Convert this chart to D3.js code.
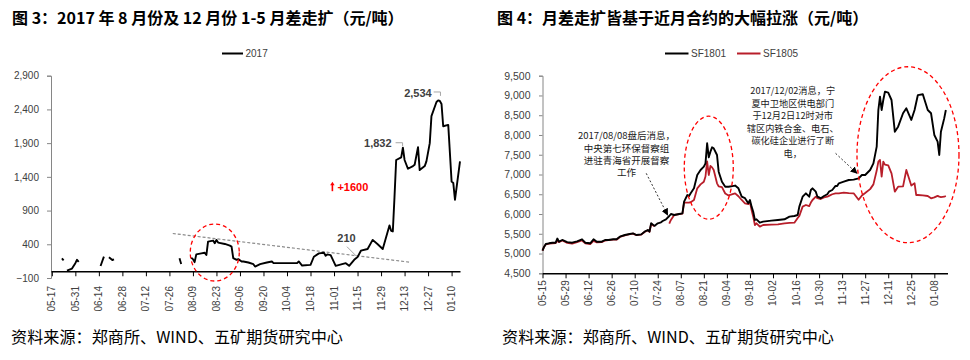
<!DOCTYPE html>
<html><head><meta charset="utf-8">
<script src="https://cdn.jsdelivr.net/npm/d3@7"></script>
<style>body{margin:0;background:#fff} svg{display:block}</style>
</head><body>
<svg id="c" width="970" height="360"></svg>
<script>
// ---------------- DATA ----------------
const leftTitle = "图 3：2017 年 8 月份及 12 月份 1-5 月差走扩（元/吨）";
const rightTitle = "图 4：月差走扩皆基于近月合约的大幅拉涨（元/吨）";
const sourceText = "资料来源：郑商所、WIND、五矿期货研究中心";

const leftSeriesName = "2017";
const leftDates = ["2017-05-23","2017-05-24","2017-05-25","2017-05-26","2017-05-29","2017-05-31","2017-06-01","2017-06-02","2017-06-05",
"2017-06-15","2017-06-17","2017-06-18","2017-06-20","2017-06-22","2017-06-23","2017-06-26",
"2017-08-01","2017-08-02","2017-08-04",
"2017-08-08","2017-08-09","2017-08-10","2017-08-11","2017-08-14","2017-08-16","2017-08-17","2017-08-18","2017-08-21","2017-08-22","2017-08-23","2017-08-24","2017-08-28","2017-08-31",
"2017-09-01","2017-09-02","2017-09-04","2017-09-05","2017-09-07","2017-09-08","2017-09-11","2017-09-14","2017-09-15","2017-09-18","2017-09-22","2017-09-25","2017-09-26",
"2017-10-02","2017-10-10","2017-10-11","2017-10-13","2017-10-18","2017-10-20","2017-10-23","2017-10-26","2017-10-27","2017-10-28","2017-10-30",
"2017-11-02","2017-11-08","2017-11-10","2017-11-13","2017-11-15","2017-11-17","2017-11-21","2017-11-24","2017-11-27","2017-11-30",
"2017-12-04","2017-12-05","2017-12-06","2017-12-07","2017-12-08","2017-12-11","2017-12-12","2017-12-13","2017-12-15","2017-12-18","2017-12-19","2017-12-21","2017-12-22","2017-12-25","2017-12-26","2017-12-28","2017-12-29",
"2018-01-01","2018-01-02","2018-01-03","2018-01-04","2018-01-05","2018-01-08","2018-01-10","2018-01-11","2018-01-12","2018-01-15"];
const leftSpread = [190,160,null,10,40,120,170,140,null,
78,216,null,207,167,177,null,
192,108,null,
200,180,135,250,265,275,240,440,455,415,465,425,405,380,
365,195,170,180,145,145,130,105,70,105,130,145,120,
120,120,145,85,95,215,265,275,230,250,240,
80,120,80,170,210,305,330,465,400,330,
680,600,590,1100,1650,1690,1832,1650,1520,1560,1580,1840,1500,1560,1630,1900,2300,
2510,2534,2525,2480,2150,2170,1330,1310,1060,1630];
const leftYTicks = [-100,400,900,1400,1900,2400,2900];
const leftXTicks = ["2017-05-17","2017-05-31","2017-06-14","2017-06-28","2017-07-12","2017-07-26","2017-08-09","2017-08-23","2017-09-06","2017-09-20","2017-10-04","2017-10-18","2017-11-01","2017-11-15","2017-11-29","2017-12-13","2017-12-27","2018-01-10"];
const leftTrendDates = ["2017-07-28","2017-12-16"];
const leftTrendValues = [560,135];
const leftPeakLabels = [{date:"2018-01-02", value:2534, text:"2,534"},{date:"2017-12-12", value:1832, text:"1,832"},{date:"2017-11-15", value:210, text:"210"}];
const leftRiseNote = {date:"2017-11-03", value:1254, text:"+1600"};
const leftCircle = {date:"2017-08-22", value:278};

const rightSeriesNames = ["SF1801","SF1805"];
const rightDates = [
"2017-05-15","2017-05-16","2017-05-17","2017-05-19","2017-05-21","2017-05-23","2017-05-24","2017-05-25","2017-05-27","2017-05-30",
"2017-06-02","2017-06-05","2017-06-08","2017-06-10","2017-06-13","2017-06-15","2017-06-17","2017-06-20","2017-06-22","2017-06-24","2017-06-27","2017-06-29",
"2017-07-01","2017-07-04","2017-07-07","2017-07-09","2017-07-11","2017-07-14","2017-07-16","2017-07-18","2017-07-19","2017-07-20","2017-07-22","2017-07-24","2017-07-26","2017-07-27","2017-07-29","2017-07-31",
"2017-08-01","2017-08-03","2017-08-06","2017-08-08","2017-08-09","2017-08-11","2017-08-12","2017-08-13","2017-08-15","2017-08-17","2017-08-19","2017-08-21","2017-08-22","2017-08-23","2017-08-24","2017-08-25","2017-08-26","2017-08-27","2017-08-29","2017-08-30",
"2017-09-01","2017-09-03","2017-09-05","2017-09-09","2017-09-11","2017-09-13","2017-09-15","2017-09-17","2017-09-18","2017-09-19","2017-09-20","2017-09-21","2017-09-22","2017-09-24","2017-09-26",
"2017-10-01","2017-10-05","2017-10-09","2017-10-12","2017-10-15","2017-10-17","2017-10-18","2017-10-20","2017-10-22","2017-10-24","2017-10-25","2017-10-26","2017-10-28","2017-10-29","2017-10-31",
"2017-11-02","2017-11-04","2017-11-05","2017-11-07","2017-11-09","2017-11-10","2017-11-11","2017-11-14","2017-11-17","2017-11-20","2017-11-23","2017-11-25","2017-11-27","2017-11-30",
"2017-12-02","2017-12-04","2017-12-05","2017-12-06","2017-12-07","2017-12-08","2017-12-09","2017-12-11","2017-12-13","2017-12-15","2017-12-17","2017-12-20","2017-12-22","2017-12-25","2017-12-27","2017-12-28","2017-12-29",
"2018-01-01","2018-01-04","2018-01-06","2018-01-08","2018-01-10","2018-01-11","2018-01-12","2018-01-14","2018-01-15"];
const sf1801 = [
5072,5173,5241,5259,5274,5274,5380,5300,5343,5290,
5274,5310,5360,5274,5259,5360,5300,5300,5343,5343,5360,5360,
5426,5469,5494,5510,5469,5485,5553,5596,5553,5765,5700,5765,5790,5823,5866,5950,
6000,5975,6000,6018,6312,6481,6456,6524,6650,6987,7114,7198,7283,7790,7435,7577,7688,7663,7494,7071,
6818,6691,6691,6720,6650,6438,6400,6271,6355,6186,6059,5850,5866,5781,5807,
5832,5850,5866,5933,5950,5975,6186,6438,6524,6438,6608,6650,6565,6438,6400,
6456,6500,6565,6608,6710,6710,6777,6818,6861,6870,6903,6987,6987,7114,
7283,7704,8632,8970,8632,8885,9095,9070,8885,8083,8210,8550,8675,8380,8632,8820,9010,
9030,8632,8550,8000,7830,7494,8083,8420,8632];
const sf1805 = [
5072,5173,5230,5250,5260,5265,5320,5290,5330,5270,
5250,5290,5330,5260,5240,5320,5280,5290,5330,5340,5350,5350,
5420,5460,5490,5505,5465,5480,5545,5590,5550,5750,5690,null,null,null,null,5760,
5850,5975,5995,6010,6286,6290,6286,6300,6355,6650,6750,6818,6950,7330,6987,7215,7180,7114,6777,6700,
6680,6520,6470,6524,6450,6355,6271,6250,6300,6100,5933,5722,5765,5680,5722,
5730,5740,5765,5775,5780,5900,5950,6186,6228,6200,6290,6355,6438,6400,6380,
6420,6438,6460,6500,6524,6524,6524,6540,6530,6524,6360,6470,6530,6630,
6750,7100,7324,7367,6945,7324,7250,7230,7030,6565,6691,6700,7114,6720,6777,6481,6481,
6470,6456,6398,6420,6460,6440,6430,6438,6456];
const rightYTicks = [4500,5000,5500,6000,6500,7000,7500,8000,8500,9000,9500];
const rightXTicks = ["2017-05-15","2017-05-29","2017-06-12","2017-06-26","2017-07-10","2017-07-24","2017-08-07","2017-08-21","2017-09-04","2017-09-18","2017-10-02","2017-10-16","2017-10-30","2017-11-13","2017-11-27","2017-12-11","2017-12-25","2018-01-08"];
const note1Lines = ["2017/08/08盘后消息，","中央第七环保督察组","进驻青海省开展督察","工作"];
const note1 = {date:"2017-07-05", value:7974, arrowFrom:["2017-07-17",7030], arrowTo:["2017-07-30",5975]};
const note2Lines = ["2017/12/02消息，宁","夏中卫地区供电部门","于12月2日12时对市","辖区内铁合金、电石、","碳化硅企业进行了断","电，"];
const note2 = {date:"2017-10-14", value:9115, arrowFrom:["2017-11-09",7536], arrowTo:["2017-11-22",7030]};
const rightCircles = [{date:"2017-08-24", value:7172, rx:24.5, ry:51.5},{date:"2017-12-23", value:7500, rx:51, ry:88}];

// ---------------- DRAW ----------------
const parse = d3.timeParse("%Y-%m-%d");
const fmtMD = d3.timeFormat("%m-%d");
const svg = d3.select("#c");
svg.append("rect").attr("width",970).attr("height",360).attr("fill","#fff");
const cjk = "'Noto Sans CJK SC','Noto Sans',sans-serif";
const latin = "'Liberation Sans',Arial,sans-serif";
const RED = "#FF0000";

// titles
svg.append("text").attr("x",12).attr("y",24).text(leftTitle)
  .style("font-family",cjk).style("font-weight","700").style("font-size","16px").attr("fill","#000");
svg.append("text").attr("x",497).attr("y",24).text(rightTitle)
  .style("font-family",cjk).style("font-weight","700").style("font-size","16px").attr("fill","#000");
// sources
[11,502].forEach(x=>{
  svg.append("text").attr("x",x).attr("y",343).text(sourceText)
    .style("font-family",cjk).style("font-size","16px").attr("fill","#000")
    .attr("textLength",332).attr("lengthAdjust","spacingAndGlyphs");
});

// ---- LEFT CHART ----
const xL = d3.scaleTime().domain([new Date(2017,4,16,12), new Date(2018,0,15)]).range([51,460]);
const yL = d3.scaleLinear().domain([-100,2900]).range([278,75.7]);

const gyL = svg.append("g").attr("transform",`translate(${xL.range()[0]},0)`)
  .call(d3.axisLeft(yL).tickValues(leftYTicks).tickSize(4).tickPadding(8).tickFormat(d3.format(",")));
gyL.select(".domain").attr("stroke","#868686");
gyL.selectAll(".tick line").attr("stroke","#868686");
gyL.selectAll(".tick text").style("font-family",latin).style("font-size","10px").attr("fill","#404040");

const gxL = svg.append("g").attr("transform",`translate(0,${yL(0)})`)
  .call(d3.axisBottom(xL).tickValues(leftXTicks.map(parse)).tickSize(5).tickSizeOuter(0).tickFormat(""));
gxL.select(".domain").attr("stroke","#000").attr("stroke-width",1.6);
gxL.selectAll(".tick line").attr("stroke","#000");
svg.append("g").selectAll("text").data(leftXTicks.map(parse)).join("text")
  .attr("transform",d=>`translate(${xL(d)},${yL(-100)+8}) rotate(-90)`)
  .attr("text-anchor","end").attr("dy","0.35em").text(fmtMD)
  .style("font-family",latin).style("font-size","10px").attr("fill","#404040");

// trend line
svg.append("line")
  .attr("x1",xL(parse(leftTrendDates[0]))).attr("y1",yL(leftTrendValues[0]))
  .attr("x2",xL(parse(leftTrendDates[1]))).attr("y2",yL(leftTrendValues[1]))
  .attr("stroke","#8c8c8c").attr("stroke-width",1.2).attr("stroke-dasharray","3,2");

// line
const leftData = leftDates.map((d,i)=>({d:parse(d), v:leftSpread[i]}));
svg.append("path").datum(leftData)
  .attr("d", d3.line().defined(p=>p.v!=null).x(p=>xL(p.d)).y(p=>yL(p.v)))
  .attr("fill","none").attr("stroke","#000").attr("stroke-width",1.9).attr("stroke-linejoin","round");

// circle
svg.append("ellipse").attr("cx",xL(parse(leftCircle.date))).attr("cy",yL(leftCircle.value))
  .attr("rx",24.5).attr("ry",28.5).attr("fill","none").attr("stroke",RED)
  .attr("stroke-width",1.3).attr("stroke-dasharray","4,3");

// peak labels
const lblStyle = s=>s.style("font-family",latin).style("font-size","11px").style("font-weight","700").attr("fill","#404040");
leftPeakLabels.forEach((L,i)=>{
  const px = xL(parse(L.date)), py = yL(L.value);
  if(i===0){
    svg.append("text").attr("x",px-6.5).attr("y",py-7.7).attr("dy","0.35em").attr("text-anchor","end").text(L.text).call(lblStyle);
    svg.append("path").attr("d",`M${px-4.5},${py-8.4}H${px+2.3}V${py-4.5}`).attr("fill","none").attr("stroke","#a6a6a6");
  } else if(i===1){
    svg.append("text").attr("x",px-11.3).attr("y",py-4.4).attr("dy","0.35em").attr("text-anchor","end").text(L.text).call(lblStyle);
    svg.append("path").attr("d",`M${px-7.3},${py-5}H${px-0.3}V${py-1.7}`).attr("fill","none").attr("stroke","#a6a6a6");
  } else {
    svg.append("text").attr("x",px-11).attr("y",py-19.4).attr("dy","0.35em").attr("text-anchor","middle").text(L.text).call(lblStyle);
    svg.append("path").attr("d",`M${px-10.6},${py-10.4}L${px-0.6},${py-0.4}`).attr("fill","none").attr("stroke","#a6a6a6");
  }
});
// +1600 note
{
  const nx = xL(parse(leftRiseNote.date)), ny = yL(leftRiseNote.value);
  svg.append("text").attr("x",nx).attr("y",ny).attr("dy","0.35em").text(leftRiseNote.text)
    .style("font-family",latin).style("font-size","11px").style("font-weight","700").attr("fill",RED);
  const ax = nx-5;
  svg.append("path").attr("d",`M${ax},${ny+4.5}V${ny-2}`).attr("stroke",RED).attr("stroke-width",1.6);
  svg.append("path").attr("d",`M${ax-2.2},${ny-1.5}L${ax},${ny-5}L${ax+2.2},${ny-1.5}Z`).attr("fill",RED);
}
// left legend
svg.append("line").attr("x1",222).attr("x2",243).attr("y1",53.5).attr("y2",53.5).attr("stroke","#000").attr("stroke-width",2);
svg.append("text").attr("x",245.5).attr("y",53.5).attr("dy","0.35em").text(leftSeriesName)
  .style("font-family",latin).style("font-size","10px").attr("fill","#404040");

// ---- RIGHT CHART ----
const xR = d3.scaleTime().domain([new Date(2017,4,15), new Date(2018,0,16)]).range([542.5,947.5]);
const yR = d3.scaleLinear().domain([4500,9500]).range([273.3,75.7]);

const gyR = svg.append("g").attr("transform",`translate(${xR.range()[0]},0)`)
  .call(d3.axisLeft(yR).tickValues(rightYTicks).tickSize(3.5).tickPadding(8.5).tickFormat(d3.format(",")));
gyR.select(".domain").attr("stroke","#868686");
gyR.selectAll(".tick line").attr("stroke","#868686");
gyR.selectAll(".tick text").style("font-family",latin).style("font-size","10.5px").attr("fill","#404040");

const gxR = svg.append("g").attr("transform",`translate(0,${yR(4500)})`)
  .call(d3.axisBottom(xR).tickValues(rightXTicks.map(parse)).tickSize(5).tickSizeOuter(0).tickFormat(""));
gxR.select(".domain").attr("stroke","#000").attr("stroke-width",1.6);
gxR.selectAll(".tick line").attr("stroke","#000");
svg.append("g").selectAll("text").data(rightXTicks.map(parse)).join("text")
  .attr("transform",d=>`translate(${xR(d)},${yR(4500)+7}) rotate(-90)`)
  .attr("text-anchor","end").attr("dy","0.35em").text(fmtMD)
  .style("font-family",latin).style("font-size","10px").attr("fill","#404040");

const rData = rightDates.map((d,i)=>({d:parse(d), a:sf1801[i], b:sf1805[i]}));
const REDLINE = "#B81E2A";
svg.append("path").datum(rData)
  .attr("d", d3.line().defined(p=>p.b!=null).x(p=>xR(p.d)).y(p=>yR(p.b)))
  .attr("fill","none").attr("stroke",REDLINE).attr("stroke-width",1.8).attr("stroke-linejoin","round");
svg.append("path").datum(rData)
  .attr("d", d3.line().defined(p=>p.a!=null).x(p=>xR(p.d)).y(p=>yR(p.a)))
  .attr("fill","none").attr("stroke","#000").attr("stroke-width",1.9).attr("stroke-linejoin","round");

rightCircles.forEach(c=>{
  svg.append("ellipse").attr("cx",xR(parse(c.date))).attr("cy",yR(c.value))
    .attr("rx",c.rx).attr("ry",c.ry).attr("fill","none").attr("stroke",RED)
    .attr("stroke-width",1.3).attr("stroke-dasharray","4,3");
});

svg.append("defs").append("marker").attr("id","ah").attr("viewBox","0 0 10 10")
  .attr("refX",9).attr("refY",5).attr("markerWidth",7).attr("markerHeight",7)
  .attr("markerUnits","userSpaceOnUse").attr("orient","auto")
  .append("path").attr("d","M0,0L10,5L0,10Z").attr("fill","#000");

function note(lines, n, gap, size){
  const cx = xR(parse(n.date)), cy = yR(n.value);
  lines.forEach((s,i)=>{
    svg.append("text").attr("text-anchor","middle")
      .attr("x",cx).attr("y",cy+i*gap).attr("dy","0.35em").text(s)
      .style("font-family",cjk).style("font-size",size+"px").attr("fill","#1a1a1a");
  });
  svg.append("line")
    .attr("x1",xR(parse(n.arrowFrom[0]))).attr("y1",yR(n.arrowFrom[1]))
    .attr("x2",xR(parse(n.arrowTo[0]))).attr("y2",yR(n.arrowTo[1]))
    .attr("stroke","#333").attr("stroke-width",1).attr("stroke-dasharray","2,2")
    .attr("marker-end","url(#ah)");
}
note(note1Lines, note1, 12.2, 9.5);
note(note2Lines, note2, 12.5, 9.2);

// right legend
svg.append("line").attr("x1",665).attr("x2",688.5).attr("y1",53.5).attr("y2",53.5).attr("stroke","#000").attr("stroke-width",2);
svg.append("text").attr("x",691).attr("y",53.5).attr("dy","0.35em").text(rightSeriesNames[0])
  .style("font-family",latin).style("font-size","10px").attr("fill","#404040");
svg.append("line").attr("x1",737).attr("x2",760.5).attr("y1",53.5).attr("y2",53.5).attr("stroke",REDLINE).attr("stroke-width",2);
svg.append("text").attr("x",763).attr("y",53.5).attr("dy","0.35em").text(rightSeriesNames[1])
  .style("font-family",latin).style("font-size","10px").attr("fill","#404040");
</script>
</body></html>
